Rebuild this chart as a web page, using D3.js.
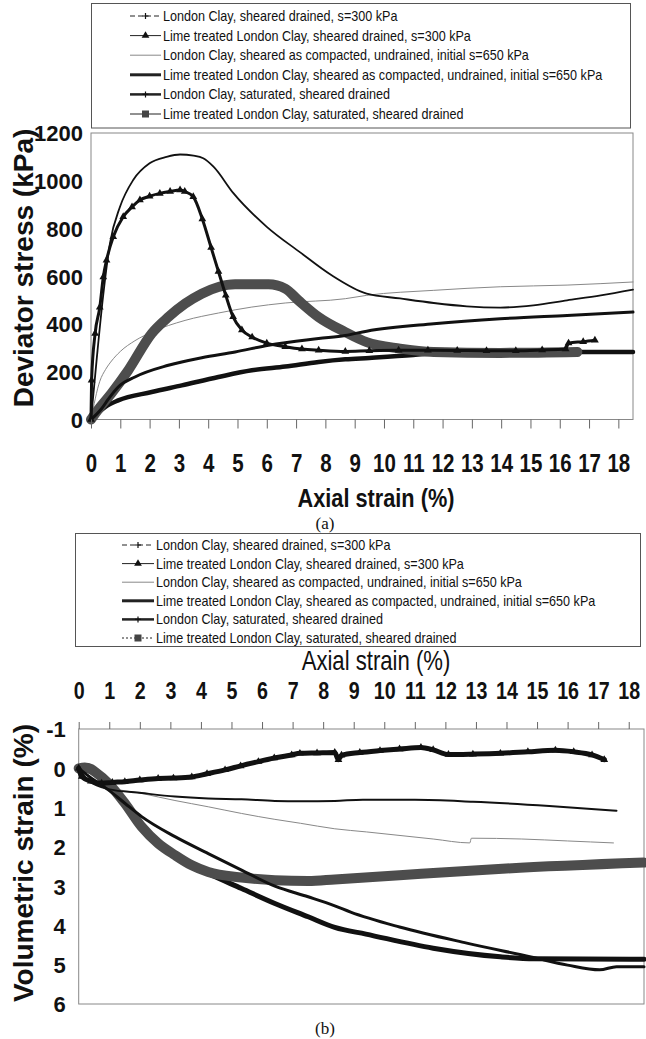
<!DOCTYPE html>
<html>
<head>
<meta charset="utf-8">
<script src="https://cdn.jsdelivr.net/npm/d3@7"></script>
<style>
  body { margin: 0; background: #fff; }
  svg text { font-family: "Liberation Sans", Arial, sans-serif; fill: #111; }
</style>
</head>
<body>
<svg id="chart" width="646" height="1039"></svg>
<script>
// legend labels (same order in both panels)
const seriesNames = [
  'London Clay, sheared drained, s=300 kPa',
  'Lime treated London Clay, sheared drained, s=300 kPa',
  'London Clay, sheared as compacted, undrained, initial s=650 kPa',
  'Lime treated London Clay, sheared as compacted, undrained, initial s=650 kPa',
  'London Clay, saturated, sheared drained',
  'Lime treated London Clay, saturated, sheared drained'
];

const strainTicks = [0, 1, 2, 3, 4, 5, 6, 7, 8, 9, 10, 11, 12, 13, 14, 15, 16, 17, 18];
const stressTicks = [0, 200, 400, 600, 800, 1000, 1200];
const volTicks = [-1, 0, 1, 2, 3, 4, 5, 6];

// (a) deviator stress, kPa  [axial strain %, q]
const qLcDrained = [[0,0],[0.2,260],[0.41,513],[0.65,740],[0.99,891],[1.44,1003],[2.0,1073],[2.58,1100],[3.04,1110],[3.5,1105],[3.83,1094],[4.18,1059],[4.86,948],[6.0,807],[7.14,700],[8.2,605],[9.41,527],[10.55,507],[11.7,488],[12.83,474],[13.97,469],[15.1,478],[16.25,499],[17.4,520],[18.5,544]];
const qLimeDrained = [[0,0],[0.02,164],[0.14,360],[0.3,470],[0.42,597],[0.53,667],[0.76,765],[1.1,849],[1.4,890],[1.67,919],[2.0,935],[2.35,947],[2.7,955],[3.04,961],[3.2,955],[3.49,933],[3.8,840],[4.1,720],[4.35,620],[4.6,520],[4.85,430],[5.15,375],[5.5,345],[6.0,320],[6.63,305],[7.2,295],[7.77,290],[8.68,285],[9.5,288],[10.5,290],[11.5,290],[12.5,289],[13.5,288],[14.5,288],[15.4,291],[16.2,295],[16.3,320],[16.8,326],[17.2,332]];
const qLcUndrained = [[0,0],[0.3,160],[0.5,210],[0.7,245],[1.0,285],[1.5,330],[2.07,366],[3.21,415],[4.35,446],[5.49,471],[6.63,488],[8.68,506],[9.41,520],[11.7,541],[13.97,556],[16.25,563],[18.5,576]];
const qLimeUndrained = [[0,0],[0.48,52],[0.93,80],[2.07,115],[3.1,143],[4.35,178],[5.49,206],[6.63,222],[7.77,241],[8.68,252],[9.5,258],[11,270],[12,280],[13,283],[18.5,283]];
const qLcSat = [[0,0],[0.36,45],[0.59,85],[0.93,136],[1.5,178],[2.64,227],[3.78,259],[4.92,283],[6.06,311],[7.77,339],[8.68,352],[9.41,370],[11.7,401],[13.97,422],[16.25,436],[18.5,450]];
const qLimeSat = [[0,0],[0.3,50],[0.7,110],[1.27,206],[2.07,360],[2.64,429],[3.21,485],[3.78,527],[4.35,555],[4.92,566],[6.06,566],[6.63,548],[7.08,499],[7.77,429],[8.68,366],[9.41,324],[10.55,297],[11.7,283],[13.97,279],[16.6,283]];

// (b) volumetric strain, %  [axial strain %, ev]
const evLcDrained = [[0,0],[0.3,0.3],[0.97,0.53],[2.06,0.63],[3.15,0.72],[4.24,0.77],[5.33,0.79],[6.42,0.83],[7.26,0.84],[8.38,0.83],[9.3,0.8],[11,0.8],[12.9,0.85],[15.4,0.96],[17.6,1.08]];
const evLimeDrained = [[0,0],[0.1,0.21],[0.4,0.33],[0.75,0.38],[1.1,0.36],[1.51,0.34],[2.0,0.3],[2.6,0.26],[3.1,0.25],[3.7,0.22],[4.2,0.14],[4.79,0.04],[5.3,-0.06],[5.88,-0.17],[6.4,-0.26],[6.97,-0.34],[7.24,-0.38],[7.8,-0.39],[8.38,-0.4],[8.5,-0.22],[8.6,-0.33],[9.2,-0.4],[9.86,-0.45],[10.5,-0.49],[11.2,-0.53],[11.6,-0.47],[12.1,-0.35],[12.9,-0.36],[13.8,-0.38],[14.7,-0.42],[15.6,-0.46],[16.2,-0.42],[16.8,-0.34],[17.2,-0.22]];
const evLcUndrained = [[0,0],[0.5,0.3],[0.97,0.47],[2.06,0.64],[3.15,0.82],[4.24,0.98],[5.33,1.15],[6.42,1.3],[7.26,1.4],[8.38,1.54],[9.42,1.62],[11.6,1.8],[12.8,1.9],[12.85,1.78],[14.5,1.8],[16,1.85],[17.5,1.9]];
const evLimeUndrained = [[0,0],[0.5,0.12],[1,0.42],[1.5,0.87],[2.06,1.45],[2.6,1.88],[3.15,2.2],[3.7,2.47],[4.24,2.68],[5.33,3.06],[6.42,3.44],[7.51,3.78],[8.38,4.05],[9.4,4.22],[11.6,4.58],[13.8,4.8],[14.9,4.85],[18.5,4.86]];
const evLcSat = [[0,0],[0.5,0.3],[0.97,0.55],[1.51,0.89],[2.06,1.23],[3.15,1.74],[4.24,2.17],[5.33,2.59],[6.42,3.0],[7.51,3.27],[8.38,3.5],[8.9,3.66],[10.5,4.04],[12.7,4.45],[14.8,4.8],[16,5.01],[17.05,5.13],[17.6,5.05],[18.5,5.05]];
const evLimeSat = [[0,0],[0.2,-0.02],[0.4,0.02],[0.53,0.09],[0.97,0.38],[1.51,0.89],[2.06,1.49],[2.6,1.91],[3.15,2.21],[3.7,2.47],[4.24,2.64],[5.33,2.78],[6.42,2.85],[7.51,2.87],[8.38,2.83],[10.5,2.72],[14,2.55],[18.5,2.4]];

// line style per series index
const styles = [
  { stroke: '#111', marker: 'plus' },
  { stroke: '#111', marker: 'tri' },
  { stroke: '#888' },
  { stroke: '#111' },
  { stroke: '#111', marker: 'plus' },
  { stroke: '#4d4d4d', marker: 'square' }
];
const drawOrder = [2, 3, 5, 4, 0, 1];
const NARROW = 0.82;

const svg = d3.select('#chart');
const triangle = d3.symbol().type(d3.symbolTriangle).size(26);

function drawMarker(g, type, x, y, color) {
  if (type === 'tri') {
    g.append('path').attr('d', triangle).attr('transform', `translate(${x},${y})`).attr('fill', '#111');
  } else if (type === 'plus') {
    g.append('path').attr('d', `M${x - 3},${y}H${x + 3}M${x},${y - 3}V${y + 3}`)
      .attr('stroke', '#111').attr('stroke-width', 1.2);
  } else if (type === 'square') {
    g.append('rect').attr('x', x - 3.5).attr('y', y - 3.5).attr('width', 7).attr('height', 7).attr('fill', color);
  }
}

function drawLegend(box, dottedLast) {
  const g = svg.append('g');
  g.append('rect').attr('x', box.x).attr('y', box.y).attr('width', box.w).attr('height', box.h)
    .attr('fill', '#fff').attr('stroke', '#555').attr('stroke-width', 1);
  seriesNames.forEach((name, i) => {
    const st = styles[i];
    const cy = box.rowY + i * box.rowH;
    let w = 1;
    if (i === 3) w = 3;
    if (i === 4) w = 2.5;
    let dash = null;
    if (i === 0) dash = '5,3';
    if (i === 5 && dottedLast) dash = '2,2';
    g.append('line').attr('x1', box.sx0).attr('x2', box.sx1).attr('y1', cy).attr('y2', cy)
      .attr('stroke', i === 2 ? '#888' : '#222').attr('stroke-width', w)
      .attr('stroke-dasharray', dash);
    if (st.marker) drawMarker(g, st.marker, (box.sx0 + box.sx1) / 2, cy, '#444');
    g.append('text').attr('transform', `translate(${box.sx1 + 2},${cy}) scale(0.9,1)`)
      .attr('dy', '0.36em').style('font-size', '14px').text(name);
  });
}

function drawSeries(g, data, x, y, idx, width) {
  const st = styles[idx];
  const line = d3.line().x(d => x(d[0])).y(d => y(d[1])).curve(d3.curveMonotoneX);
  g.append('path').datum(data).attr('d', line).attr('fill', 'none')
    .attr('stroke', st.stroke).attr('stroke-width', width)
    .attr('stroke-linejoin', 'round').attr('stroke-linecap', 'round');
  if (st.marker === 'tri') {
    data.forEach(d => drawMarker(g, 'tri', x(d[0]), y(d[1])));
  }
}

// ---------- panel (a) ----------
const xa = d3.scaleLinear().domain([0, 18.5]).range([91, 633]);
const ya = d3.scaleLinear().domain([0, 1200]).range([419.5, 133]);

drawLegend({ x: 91.5, y: 3.5, w: 539, h: 124.5, rowY: 16, rowH: 19.6, sx0: 130, sx1: 161 }, false);

svg.append('rect').attr('x', xa(0)).attr('y', ya(1200)).attr('width', xa(18.5) - xa(0))
  .attr('height', ya(0) - ya(1200)).attr('fill', 'none').attr('stroke', '#888');

const ga = svg.append('g');
const seriesA = [qLcDrained, qLimeDrained, qLcUndrained, qLimeUndrained, qLcSat, qLimeSat];
const aWidth = [1.8, 3, 1, 4.5, 3, 10];
drawOrder.forEach(i => drawSeries(ga, seriesA[i], xa, ya, i, aWidth[i]));

const axA = svg.append('g').attr('transform', `translate(0,${ya(0)})`)
  .call(d3.axisBottom(xa).tickValues(strainTicks).tickSizeInner(9).tickSizeOuter(0).tickPadding(26));
axA.select('.domain').remove();
axA.selectAll('line').attr('stroke', '#666');
axA.selectAll('text').attr('transform', `scale(${NARROW},1)`)
  .style('font-size', '25px').style('font-weight', 'bold').attr('fill', '#111');

const ayA = svg.append('g').attr('transform', `translate(${xa(0)},0)`)
  .call(d3.axisLeft(ya).tickValues(stressTicks).tickFormat(d => String(d)).tickSize(0).tickPadding(8));
ayA.select('.domain').remove();
ayA.selectAll('text').style('font-size', '22px').style('font-weight', 'bold').attr('dy', '0.36em').attr('fill', '#111');

svg.append('text').attr('transform', `translate(376,507) scale(${NARROW},1)`).attr('text-anchor', 'middle')
  .style('font-size', '26.5px').style('font-weight', 'bold').text('Axial strain (%)');
svg.append('text').attr('transform', 'translate(33,268) rotate(-90)').attr('text-anchor', 'middle')
  .style('font-size', '28px').style('font-weight', 'bold').text('Deviator stress (kPa)');
svg.append('text').attr('x', 325).attr('y', 529).attr('text-anchor', 'middle')
  .style('font-family', '"Liberation Serif", "Times New Roman", serif').style('font-size', '17px').text('(a)');

// ---------- panel (b) ----------
const xb = d3.scaleLinear().domain([0, 18.5]).range([78.7, 644]);
const yb = d3.scaleLinear().domain([-1, 6]).range([729, 1004]);

drawLegend({ x: 75.5, y: 533.5, w: 565, h: 113, rowY: 545, rowH: 18.6, sx0: 122, sx1: 154 }, true);

svg.append('rect').attr('x', xb(0)).attr('y', yb(-1)).attr('width', xb(18.5) - xb(0))
  .attr('height', yb(6) - yb(-1)).attr('fill', 'none').attr('stroke', '#888');

const gb = svg.append('g');
const seriesB = [evLcDrained, evLimeDrained, evLcUndrained, evLimeUndrained, evLcSat, evLimeSat];
const bWidth = [2, 5, 1, 5, 3, 10];
drawOrder.forEach(i => drawSeries(gb, seriesB[i], xb, yb, i, bWidth[i]));

const axB = svg.append('g').attr('transform', `translate(0,${yb(-1)})`)
  .call(d3.axisTop(xb).tickValues(strainTicks).tickSizeInner(7).tickSizeOuter(0).tickPadding(23));
axB.select('.domain').remove();
axB.selectAll('line').attr('stroke', '#666');
axB.selectAll('text').attr('transform', `scale(${NARROW},1)`)
  .style('font-size', '24px').style('font-weight', 'bold').attr('fill', '#111');

const ayB = svg.append('g').attr('transform', `translate(${xb(0)},0)`)
  .call(d3.axisLeft(yb).tickValues(volTicks).tickFormat(d => String(d)).tickSize(0).tickPadding(13));
ayB.select('.domain').remove();
ayB.selectAll('text').style('font-size', '22px').style('font-weight', 'bold').attr('dy', '0.36em').attr('fill', '#111');

svg.append('text').attr('transform', `translate(376,670) scale(${NARROW},1)`).attr('text-anchor', 'middle')
  .style('font-size', '27px').text('Axial strain (%)');
svg.append('text').attr('transform', 'translate(33,863) rotate(-90)').attr('text-anchor', 'middle')
  .style('font-size', '28px').style('font-weight', 'bold').text('Volumetric strain (%)');
svg.append('text').attr('x', 325).attr('y', 1034).attr('text-anchor', 'middle')
  .style('font-family', '"Liberation Serif", "Times New Roman", serif').style('font-size', '17px').text('(b)');
</script>
</body>
</html>
